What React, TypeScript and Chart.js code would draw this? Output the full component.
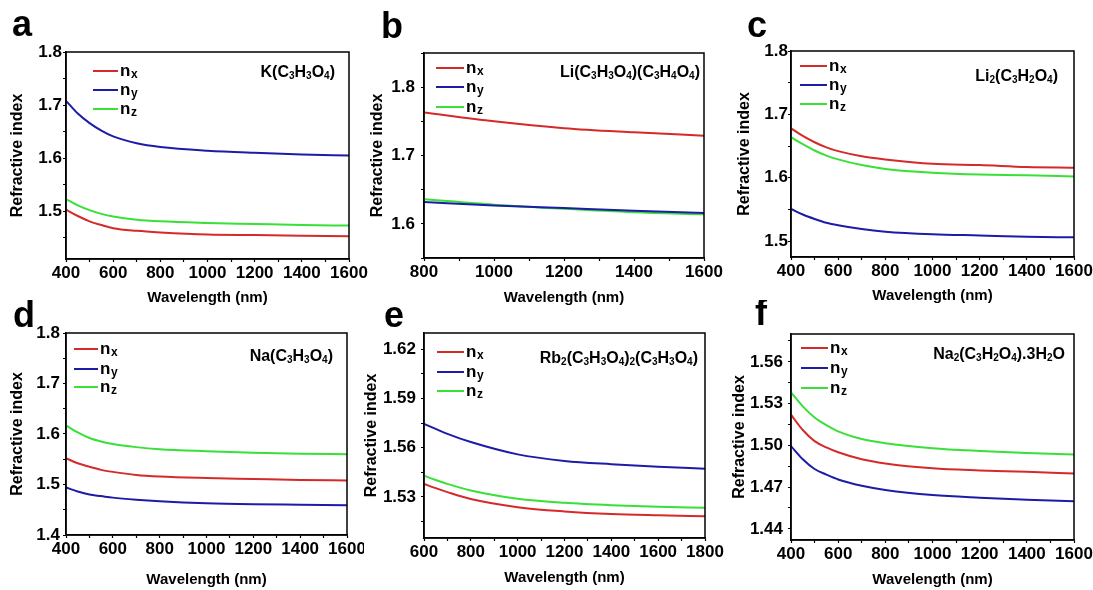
import React, { useEffect, useRef } from 'react';
import { Chart, registerables } from 'chart.js';
Chart.register(...registerables);

const FONT = '"Liberation Sans", Arial, Helvetica, sans-serif';
const RED = '#d42a2a';
const BLUE = '#1c1ca6';
const GREEN = '#38e038';

// ---------- Data (a) K(C3H3O4)
const wlA = [400, 450, 500, 550, 600, 700, 800, 1000, 1200, 1400, 1600];
const nxA = [1.503, 1.491, 1.481, 1.474, 1.468, 1.463, 1.460, 1.456, 1.455, 1.454, 1.453];
const nyA = [1.708, 1.684, 1.666, 1.652, 1.641, 1.628, 1.621, 1.614, 1.610, 1.607, 1.605];
const nzA = [1.523, 1.511, 1.502, 1.495, 1.490, 1.484, 1.481, 1.478, 1.476, 1.474, 1.473];
const xMajorA = [400, 600, 800, 1000, 1200, 1400, 1600];
const xMinorA = [500, 700, 900, 1100, 1300, 1500];
const yMajorA = [1.5, 1.6, 1.7, 1.8];
const yLabelA = ['1.5', '1.6', '1.7', '1.8'];
const yMinorA = [1.45, 1.55, 1.65, 1.75];

// ---------- Data (b) Li(C3H3O4)(C3H4O4)
const wlB = [800, 1000, 1200, 1400, 1600];
const nxB = [1.763, 1.750, 1.740, 1.734, 1.729];
const nyB = [1.632, 1.627, 1.623, 1.619, 1.616];
const nzB = [1.636, 1.628, 1.622, 1.617, 1.614];
const xMajorB = [800, 1000, 1200, 1400, 1600];
const xMinorB = [900, 1100, 1300, 1500];
const yMajorB = [1.6, 1.7, 1.8];
const yLabelB = ['1.6', '1.7', '1.8'];
const yMinorB = [1.55, 1.65, 1.75, 1.85];

// ---------- Data (c) Li2(C3H2O4)
const wlC = [400, 450, 500, 550, 600, 700, 800, 1000, 1200, 1400, 1600];
const nxC = [1.678, 1.666, 1.656, 1.648, 1.642, 1.634, 1.629, 1.622, 1.620, 1.617, 1.616];
const nyC = [1.551, 1.542, 1.535, 1.529, 1.525, 1.519, 1.515, 1.511, 1.509, 1.507, 1.506];
const nzC = [1.664, 1.653, 1.643, 1.635, 1.629, 1.620, 1.614, 1.608, 1.605, 1.604, 1.602];
const xMajorC = [400, 600, 800, 1000, 1200, 1400, 1600];
const xMinorC = [500, 700, 900, 1100, 1300, 1500];
const yMajorC = [1.5, 1.6, 1.7, 1.8];
const yLabelC = ['1.5', '1.6', '1.7', '1.8'];
const yMinorC = [1.55, 1.65, 1.75];

// ---------- Data (d) Na(C3H3O4)
const wlD = [400, 450, 500, 550, 600, 700, 800, 1000, 1200, 1400, 1600];
const nxD = [1.552, 1.542, 1.535, 1.529, 1.525, 1.519, 1.516, 1.513, 1.511, 1.509, 1.508];
const nyD = [1.494, 1.486, 1.480, 1.477, 1.474, 1.470, 1.467, 1.463, 1.461, 1.460, 1.459];
const nzD = [1.617, 1.603, 1.592, 1.585, 1.580, 1.574, 1.570, 1.566, 1.563, 1.561, 1.560];
const xMajorD = [400, 600, 800, 1000, 1200, 1400, 1600];
const xMinorD = [500, 700, 900, 1100, 1300, 1500];
const yMajorD = [1.4, 1.5, 1.6, 1.7, 1.8];
const yLabelD = ['1.4', '1.5', '1.6', '1.7', '1.8'];
const yMinorD = [1.45, 1.55, 1.65, 1.75];

// ---------- Data (e) Rb2(C3H3O4)2(C3H3O4)
const wlE = [600, 650, 700, 800, 1000, 1200, 1400, 1600, 1800];
const nxE = [1.538, 1.5354, 1.533, 1.5288, 1.5238, 1.5212, 1.5196, 1.5188, 1.5182];
const nyE = [1.5745, 1.5715, 1.5685, 1.5635, 1.556, 1.552, 1.550, 1.5485, 1.5473];
const nzE = [1.543, 1.5404, 1.538, 1.534, 1.529, 1.5265, 1.525, 1.524, 1.5235];
const xMajorE = [600, 800, 1000, 1200, 1400, 1600, 1800];
const xMinorE = [700, 900, 1100, 1300, 1500, 1700];
const yMajorE = [1.53, 1.56, 1.59, 1.62];
const yLabelE = ['1.53', '1.56', '1.59', '1.62'];
const yMinorE = [1.515, 1.545, 1.575, 1.605];

// ---------- Data (f) Na2(C3H2O4).3H2O
const wlF = [400, 450, 500, 550, 600, 700, 800, 1000, 1200, 1400, 1600];
const nxF = [1.522, 1.511, 1.503, 1.4985, 1.495, 1.490, 1.487, 1.4835, 1.482, 1.481, 1.4797];
const nyF = [1.4995, 1.490, 1.483, 1.479, 1.4755, 1.471, 1.468, 1.4643, 1.4624, 1.461, 1.4598];
const nzF = [1.538, 1.528, 1.520, 1.5145, 1.510, 1.5045, 1.5015, 1.498, 1.496, 1.4945, 1.4935];
const xMajorF = [400, 600, 800, 1000, 1200, 1400, 1600];
const xMinorF = [500, 700, 900, 1100, 1300, 1500];
const yMajorF = [1.44, 1.47, 1.50, 1.53, 1.56];
const yLabelF = ['1.44', '1.47', '1.50', '1.53', '1.56'];
const yMinorF = [1.455, 1.485, 1.515, 1.545, 1.575];

const seriesNames = ['x', 'y', 'z'];
const seriesColors = [RED, BLUE, GREEN];

type Panel = {
  letter: string;
  formula: string;
  wl: number[];
  nx: number[];
  ny: number[];
  nz: number[];
  xRange: [number, number];
  xMajor: number[];
  xMinor: number[];
  yRange: [number, number];
  yMajor: number[];
  yLabels: string[];
  yMinor: number[];
  area: [number, number, number, number];
  box: [number, number, number, number];
  clipW?: number;
  yTitleX: number;
  xTitleY: number;
  yPad: number;
  letterPos: [number, number];
  legend: { x0: number; x1: number; rows: number[] };
  formulaPos: [number, number];
};

const panels: Panel[] = [
  {
    letter: 'a', formula: 'K(C_3H_3O_4)', wl: wlA, nx: nxA, ny: nyA, nz: nzA,
    xRange: [400, 1600], xMajor: xMajorA, xMinor: xMinorA,
    yRange: [1.41, 1.8], yMajor: yMajorA, yLabels: yLabelA, yMinor: yMinorA,
    area: [66, 349, 52, 259], box: [0, 0, 375, 312],
    yTitleX: 18, xTitleY: 298, yPad: 1, letterPos: [12, 36],
    legend: { x0: 27, x1: 52, rows: [19, 38, 57] }, formulaPos: [14, 19],
  },
  {
    letter: 'b', formula: 'Li(C_3H_3O_4)(C_3H_4O_4)', wl: wlB, nx: nxB, ny: nyB, nz: nzB,
    xRange: [800, 1600], xMajor: xMajorB, xMinor: xMinorB,
    yRange: [1.55, 1.85], yMajor: yMajorB, yLabels: yLabelB, yMinor: yMinorB,
    area: [424, 704, 53, 258], box: [360, 0, 372, 312],
    yTitleX: 378, xTitleY: 298, yPad: 6, letterPos: [381, 38],
    legend: { x0: 12, x1: 40, rows: [15, 34, 54] }, formulaPos: [4, 18],
  },
  {
    letter: 'c', formula: 'Li_2(C_3H_2O_4)', wl: wlC, nx: nxC, ny: nyC, nz: nzC,
    xRange: [400, 1600], xMajor: xMajorC, xMinor: xMinorC,
    yRange: [1.475, 1.8], yMajor: yMajorC, yLabels: yLabelC, yMinor: yMinorC,
    area: [791, 1074, 51, 257], box: [727, 0, 380, 312],
    yTitleX: 745, xTitleY: 296, yPad: 0, letterPos: [747, 37],
    legend: { x0: 9, x1: 36, rows: [15, 34, 53] }, formulaPos: [16, 24],
  },
  {
    letter: 'd', formula: 'Na(C_3H_3O_4)', wl: wlD, nx: nxD, ny: nyD, nz: nzD,
    xRange: [400, 1600], xMajor: xMajorD, xMinor: xMinorD,
    yRange: [1.4, 1.8], yMajor: yMajorD, yLabels: yLabelD, yMinor: yMinorD,
    area: [66, 347, 333, 535], box: [0, 300, 375, 290], clipW: 364,
    yTitleX: 18, xTitleY: 580, yPad: 3, letterPos: [13, 327],
    legend: { x0: 8, x1: 32, rows: [16, 36, 54] }, formulaPos: [14, 22],
  },
  {
    letter: 'e', formula: 'Rb_2(C_3H_3O_4)_2(C_3H_3O_4)', wl: wlE, nx: nxE, ny: nyE, nz: nzE,
    xRange: [600, 1800], xMajor: xMajorE, xMinor: xMinorE,
    yRange: [1.505, 1.63], yMajor: yMajorE, yLabels: yLabelE, yMinor: yMinorE,
    area: [424, 705, 333, 538], box: [360, 300, 372, 290],
    yTitleX: 372, xTitleY: 578, yPad: 5, letterPos: [384, 327],
    legend: { x0: 13, x1: 40, rows: [19, 39, 58] }, formulaPos: [7, 24],
  },
  {
    letter: 'f', formula: 'Na_2(C_3H_2O_4).3H_2O', wl: wlF, nx: nxF, ny: nyF, nz: nzF,
    xRange: [400, 1600], xMajor: xMajorF, xMinor: xMinorF,
    yRange: [1.432, 1.58], yMajor: yMajorF, yLabels: yLabelF, yMinor: yMinorF,
    area: [791, 1074, 334, 540], box: [727, 300, 380, 290],
    yTitleX: 740, xTitleY: 580, yPad: 5, letterPos: [755, 325],
    legend: { x0: 10, x1: 37, rows: [14, 34, 54] }, formulaPos: [9, 19],
  },
];

const TICK_SIZE = 17;
const YTITLE_SIZE = 16;
const XTITLE_SIZE = 15;

function drawFormula(ctx: CanvasRenderingContext2D, text: string, xRight: number, yCenter: number) {
  const size = 16;
  const subSize = 10;
  const parts: { t: string; sub: boolean }[] = [];
  for (let i = 0; i < text.length; i++) {
    if (text[i] === '_') {
      parts.push({ t: text[i + 1], sub: true });
      i++;
    } else parts.push({ t: text[i], sub: false });
  }
  const mainFont = `bold ${size}px ${FONT}`;
  const subFont = `bold ${subSize}px ${FONT}`;
  let total = 0;
  const widths = parts.map((p) => {
    ctx.font = p.sub ? subFont : mainFont;
    const w = ctx.measureText(p.t).width;
    total += w;
    return w;
  });
  let x = xRight - total;
  const yb = yCenter + size * 0.36;
  ctx.textAlign = 'left';
  ctx.textBaseline = 'alphabetic';
  ctx.fillStyle = '#000';
  parts.forEach((p, i) => {
    ctx.font = p.sub ? subFont : mainFont;
    ctx.fillText(p.t, x, p.sub ? yb + 2 : yb);
    x += widths[i];
  });
}

function near(list: number[], v: number) {
  return list.findIndex((m) => Math.abs(m - v) < 1e-9);
}

function PanelChart({ p }: { p: Panel }) {
  const ref = useRef<HTMLCanvasElement>(null);
  useEffect(() => {
    const [cx, cy, cw, ch] = p.box;
    const [L, R, T, B] = p.area;
    const yLh = YTITLE_SIZE * 1.2;
    const xLh = XTITLE_SIZE * 1.2;
    const padLeft = p.yTitleX - yLh / 2 - cx;
    const yWidth = L - cx - padLeft;
    const padTop = T - cy;
    const padRight = cx + cw - R;
    const scaleBottom = p.xTitleY + xLh / 2;
    const padBottom = cy + ch - scaleBottom;
    const xHeight = scaleBottom - B;

    const xTicks = [...p.xMajor, ...p.xMinor].sort((a, b) => a - b);
    const yTicks = [...p.yMajor, ...p.yMinor].sort((a, b) => a - b);
    const data = [p.nx, p.ny, p.nz];

    const decor = {
      id: 'decor' + p.letter,
      afterDraw(chart: any) {
        const ctx: CanvasRenderingContext2D = chart.ctx;
        const a = chart.chartArea;
        ctx.save();
        ctx.strokeStyle = '#000';
        ctx.lineWidth = 1.5;
        ctx.strokeRect(a.left, a.top, a.right - a.left, a.bottom - a.top);
        seriesNames.forEach((s, i) => {
          const y = a.top + p.legend.rows[i];
          ctx.strokeStyle = seriesColors[i];
          ctx.lineWidth = 2;
          ctx.beginPath();
          ctx.moveTo(a.left + p.legend.x0, y);
          ctx.lineTo(a.left + p.legend.x1, y);
          ctx.stroke();
          ctx.fillStyle = '#000';
          ctx.textAlign = 'left';
          ctx.textBaseline = 'alphabetic';
          ctx.font = `bold 17px ${FONT}`;
          const tx = a.left + p.legend.x1 + 2;
          const yb = y + 4.5;
          ctx.fillText('n', tx, yb);
          const w = ctx.measureText('n').width;
          ctx.font = `bold 12px ${FONT}`;
          ctx.fillText(s, tx + w + 0.5, yb + 2);
        });
        drawFormula(ctx, p.formula, a.right - p.formulaPos[0], a.top + p.formulaPos[1]);
        ctx.fillStyle = '#000';
        ctx.font = `bold 36px ${FONT}`;
        ctx.textAlign = 'left';
        ctx.textBaseline = 'alphabetic';
        ctx.fillText(p.letter, p.letterPos[0] - cx, p.letterPos[1] - cy);
        ctx.restore();
      },
    };

    const chart = new Chart(ref.current as HTMLCanvasElement, {
      type: 'line',
      data: {
        datasets: data.map((d, i) => ({
          label: 'n' + seriesNames[i],
          data: p.wl.map((w, k) => ({ x: w, y: d[k] })),
          borderColor: seriesColors[i],
          backgroundColor: seriesColors[i],
          borderWidth: 2,
          pointRadius: 0,
          cubicInterpolationMode: 'monotone' as const,
          fill: false,
        })),
      },
      options: {
        responsive: false,
        animation: false,
        devicePixelRatio: 1,
        layout: { padding: { left: padLeft, right: padRight, top: padTop, bottom: padBottom } },
        plugins: { legend: { display: false }, tooltip: { enabled: false } },
        scales: {
          x: {
            type: 'linear',
            min: p.xRange[0],
            max: p.xRange[1],
            afterBuildTicks: (s: any) => {
              s.ticks = xTicks.map((v) => ({ value: v }));
            },
            afterFit: (s: any) => {
              s.height = xHeight;
            },
            ticks: {
              autoSkip: false,
              maxRotation: 0,
              padding: 1,
              color: '#000',
              font: { family: FONT, size: TICK_SIZE, weight: 'bold' },
              callback: (v: any) => (near(p.xMajor, Number(v)) >= 0 ? String(v) : ''),
            },
            grid: { display: true, drawOnChartArea: false, drawTicks: true, tickLength: 3, tickColor: '#000', tickWidth: 1.2 },
            border: { display: true, color: '#000', width: 1.5 },
            title: {
              display: true,
              text: 'Wavelength (nm)',
              color: '#000',
              padding: 0,
              font: { family: FONT, size: XTITLE_SIZE, weight: 'bold' },
            },
          },
          y: {
            type: 'linear',
            min: p.yRange[0],
            max: p.yRange[1],
            afterBuildTicks: (s: any) => {
              s.ticks = yTicks.map((v) => ({ value: v }));
            },
            afterFit: (s: any) => {
              s.width = yWidth;
            },
            ticks: {
              autoSkip: false,
              padding: p.yPad,
              color: '#000',
              font: { family: FONT, size: TICK_SIZE, weight: 'bold' },
              callback: (v: any) => {
                const k = near(p.yMajor, Number(v));
                return k >= 0 ? p.yLabels[k] : '';
              },
            },
            grid: { display: true, drawOnChartArea: false, drawTicks: true, tickLength: 3, tickColor: '#000', tickWidth: 1.2 },
            border: { display: true, color: '#000', width: 1.5 },
            title: {
              display: true,
              text: 'Refractive index',
              color: '#000',
              padding: 0,
              font: { family: FONT, size: YTITLE_SIZE, weight: 'bold' },
            },
          },
        },
      } as any,
      plugins: [decor],
    });
    return () => chart.destroy();
  }, []);

  const [cx, cy, cw, ch] = p.box;
  return (
    <div
      style={{
        position: 'absolute',
        left: cx,
        top: cy,
        width: p.clipW ?? cw,
        height: ch,
        overflow: 'hidden',
      }}
    >
      <canvas ref={ref} width={cw} height={ch} style={{ display: 'block', width: cw, height: ch }} />
    </div>
  );
}

export default function App() {
  return (
    <div
      style={{
        position: 'absolute',
        left: 0,
        top: 0,
        width: 1093,
        height: 590,
        overflow: 'hidden',
        background: '#fff',
      }}
    >
      {panels.map((p) => (
        <PanelChart key={p.letter} p={p} />
      ))}
    </div>
  );
}
